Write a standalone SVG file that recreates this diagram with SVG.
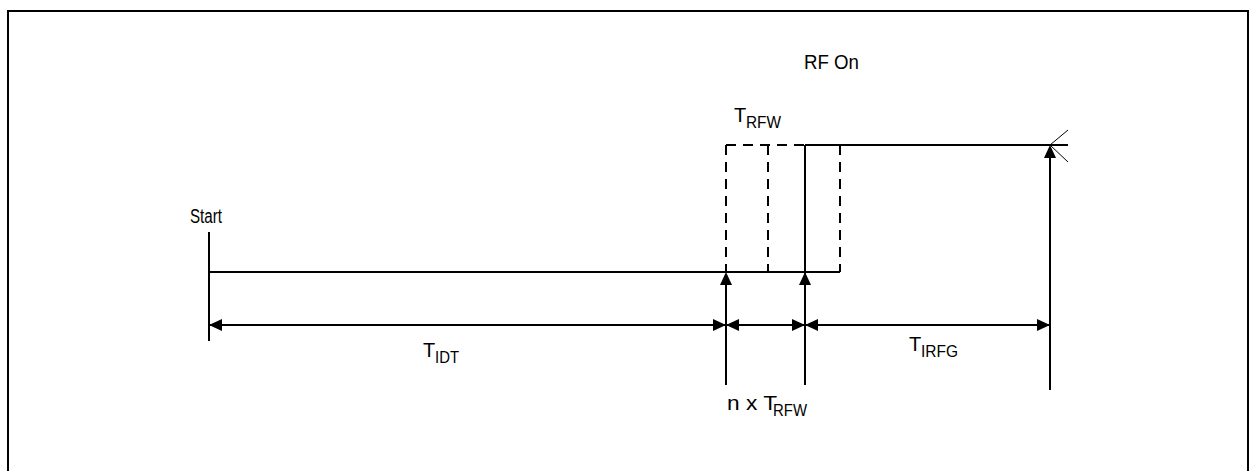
<svg xmlns="http://www.w3.org/2000/svg" width="1250" height="471" viewBox="0 0 1250 471">
<defs>
<style>
.ln{stroke:#000;stroke-width:2;fill:none}
.dash{stroke:#000;stroke-width:2;fill:none;stroke-dasharray:10,7}
.thin{stroke:#000;stroke-width:1;fill:none}
.ah{fill:#000;stroke:none}
text{font-family:"Liberation Sans",Arial,sans-serif;fill:#000}
.lbl{font-size:20px}
.sub{font-size:16px}
</style>
</defs>
<rect width="1250" height="471" fill="#fff"/>
<path class="ln" d="M8,480 V11 H1248 V480"/>
<g id="connectors">
<line class="ln" x1="209" y1="232" x2="209" y2="341"/>
<line class="ln" x1="209" y1="272" x2="840" y2="272"/>
<line class="dash" x1="726" y1="145" x2="726" y2="272"/>
<line class="dash" x1="768" y1="145" x2="768" y2="272"/>
<line class="dash" x1="840" y1="145" x2="840" y2="272"/>
<line class="dash" x1="726" y1="145" x2="805" y2="145"/>
<line class="ln" x1="805" y1="145" x2="805" y2="385"/>
<line class="ln" x1="805" y1="145" x2="1068" y2="145"/>
<line class="thin" x1="1050" y1="145" x2="1068" y2="130"/>
<line class="thin" x1="1050" y1="145" x2="1068" y2="162"/>
<line class="ln" x1="726" y1="282" x2="726" y2="385"/>
<line class="ln" x1="1050" y1="155" x2="1050" y2="390"/>
<polygon class="ah" points="726,272 720,285 732,285"/>
<polygon class="ah" points="805,272 799,285 811,285"/>
<polygon class="ah" points="1050,145 1044,158 1056,158"/>
<line class="ln" x1="209" y1="325" x2="1050" y2="325"/>
<polygon class="ah" points="209,325 222,319 222,331"/>
<polygon class="ah" points="726,325 713,319 713,331"/>
<polygon class="ah" points="726,325 739,319 739,331"/>
<polygon class="ah" points="805,325 792,319 792,331"/>
<polygon class="ah" points="805,325 818,319 818,331"/>
<polygon class="ah" points="1050,325 1037,319 1037,331"/>
</g>
<g id="labels">
<text id="rfon" class="lbl" x="804" y="69" textLength="55" lengthAdjust="spacingAndGlyphs">RF On</text>
<text id="start" class="lbl" x="190" y="223" textLength="32" lengthAdjust="spacingAndGlyphs">Start</text>
<g id="trfw">
<text class="lbl" x="734" y="122">T</text>
<text class="sub" x="746" y="128" textLength="35" lengthAdjust="spacingAndGlyphs">RFW</text>
</g>
<g id="tidt">
<text class="lbl" x="423" y="357">T</text>
<text class="sub" x="435" y="363" textLength="24" lengthAdjust="spacingAndGlyphs">IDT</text>
</g>
<g id="tirfg">
<text class="lbl" x="909" y="351">T</text>
<text class="sub" x="921" y="357" textLength="37" lengthAdjust="spacingAndGlyphs">IRFG</text>
</g>
<g id="nxtrfw">
<text class="lbl" x="727" y="410" textLength="50" lengthAdjust="spacingAndGlyphs">n x T</text>
<text class="sub" x="773" y="416" textLength="34" lengthAdjust="spacingAndGlyphs">RFW</text>
</g>
</g>
</svg>
